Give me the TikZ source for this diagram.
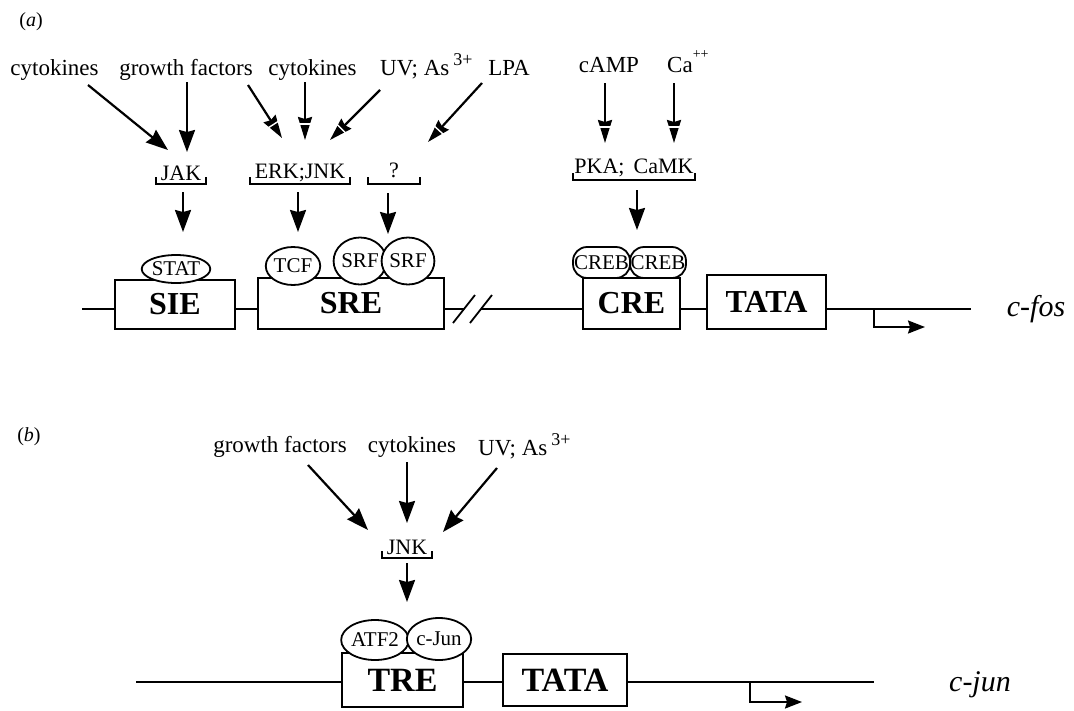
\documentclass[tikz,border=0pt]{standalone}
\usepackage{fontspec}
\setmainfont{Liberation Serif}
\usetikzlibrary{arrows.meta,shapes.geometric,calc}
\begin{document}
\begin{tikzpicture}[x=1pt,y=-1pt,
  lbl/.style={font=\fontsize{23}{24}\selectfont, inner sep=0pt, anchor=base},
  kin/.style={font=\fontsize{22}{22}\selectfont, inner sep=0pt},
  brk/.style={line width=1.6pt},
  elemA/.style={draw, line width=2.2pt, fill=white, inner sep=0pt, font=\bfseries\fontsize{32}{32}\selectfont},
  elemB/.style={draw, line width=2.2pt, fill=white, inner sep=0pt, font=\bfseries\fontsize{34}{34}\selectfont},
  prot/.style={draw, ellipse, line width=1.8pt, fill=white, inner sep=0pt, font=\fontsize{21}{21}\selectfont},
  creb/.style={draw, rounded corners=14pt, line width=1.8pt, fill=white, inner sep=0pt, minimum height=31pt, font=\fontsize{21}{21}\selectfont},
  arr/.style={line width=2.2pt, -{Stealth[length=22pt,width=16pt,inset=2pt]}},
  arrd/.style={line width=2.2pt, -{Stealth[length=23pt,width=14pt,inset=2pt]}},
  stripe/.style={white, line width=1.4pt},
  tss/.style={line width=2pt, -{Stealth[length=17pt,width=13pt,inset=2pt]}},
  dna/.style={line width=2pt},
  gene/.style={font=\itshape\fontsize{30}{30}\selectfont, inner sep=0pt},
  panel/.style={font=\fontsize{20}{20}\selectfont, inner sep=0pt},
]
\useasboundingbox (0,0) rectangle (1074,710);

% ---------------- panel (a) ----------------
\node[panel] (pa) at (31,22) {(\textit{a})};

\node[lbl] (cyt1) at (54.5,75) {cytokines};
\node[lbl] (gf1) at (186,75) {growth factors};
\node[lbl] (cyt2) at (312.5,75) {cytokines};
\node[lbl, anchor=base west] (uv1) at (380,75) {UV; As\,\raisebox{0.42em}{\fontsize{18}{18}\selectfont 3+}};
\node[lbl] (lpa) at (509,75) {LPA};
\node[lbl] (camp) at (609,72) {cAMP};
\node[lbl, anchor=base west] (ca) at (667,72) {Ca\raisebox{0.6em}{\fontsize{14}{14}\selectfont ++}};

% kinases with brackets
\node[kin] (jak) at (181,173) {JAK};
\draw[brk] (156,177) |- (206,184) -- (206,177);
\node[kin] (erk) at (300,173) {ERK;JNK};
\draw[brk] (250,177) |- (350,184) -- (350,177);
\node[kin] (unk) at (394,170) {?};
\draw[brk] (368,177) |- (420,184) -- (420,177);
\node[kin] (pka) at (634,168) {PKA;\ \,CaMK};
\draw[brk] (573,173) |- (695,180) -- (695,173);

% DNA line (a)
\coordinate (dA0) at (82,309);
\coordinate (dA1) at (464,309);
\coordinate (dA2) at (481,309);
\coordinate (dA3) at (971,309);
\draw[dna] (dA0) -- (dA1);
\draw[dna] (dA2) -- (dA3);
\draw[line width=1.8pt] (453,323) -- (475,295);
\draw[line width=1.8pt] (470,323) -- (492,295);

\node[elemA, minimum width=120pt, minimum height=49pt] (sie) at (175,304.5) {SIE};
\node[elemA, minimum width=186pt, minimum height=51pt] (sre) at (351,303.5) {SRE};
\node[elemA, minimum width=97pt, minimum height=51pt] (cre) at (631.5,303.5) {CRE};
\node[elemA, minimum width=119pt, minimum height=54pt] (tataA) at (766.5,302) {TATA};

\node[prot, minimum width=68pt, minimum height=28pt] (stat) at (176,269) {STAT};
\node[prot, minimum width=50pt, minimum height=38pt] (tcf) at (293,266) {TCF};
\node[prot, minimum width=46pt, minimum height=47pt] (srf1) at (360,261) {SRF};
\node[prot, minimum width=48pt, minimum height=47pt] (srf2) at (408,261) {SRF};
\node[creb, minimum width=57pt] (creb1) at (601.5,262.5) {CREB};
\node[creb, minimum width=56pt] (creb2) at (658,262.5) {CREB};

\coordinate (tssA) at (874,309);
\coordinate (tssAe) at (925,327);
\draw[tss] (tssA) |- (tssAe);
\node[gene] (cfos) at (1036,309) {c-fos};

% arrows (a)
\coordinate (a1s) at (88,85);   \coordinate (a1e) at (168,150);
\coordinate (a2s) at (187,82);  \coordinate (a2e) at (187,152);
\coordinate (a3s) at (248,85);  \coordinate (a3e) at (282,138);
\coordinate (a4s) at (305,82);  \coordinate (a4e) at (305,140);
\coordinate (a5s) at (380,90);  \coordinate (a5e) at (330,140);
\coordinate (a6s) at (482,83);  \coordinate (a6e) at (428,142);
\coordinate (a7s) at (605,83);  \coordinate (a7e) at (605,143);
\coordinate (a8s) at (674,83);  \coordinate (a8e) at (674,143);
\draw[arr] (a1s) -- (a1e);
\draw[arr] (a2s) -- (a2e);
\foreach \s/\e in {a3s/a3e, a4s/a4e, a5s/a5e, a6s/a6e, a7s/a7e, a8s/a8e} {
  \draw[arrd] (\s) -- (\e);
  \coordinate (P) at ($(\e)!16pt!(\s)$);
  \draw[stripe] ($(P)!6pt!90:(\e)$) -- ($(P)!6pt!-90:(\e)$);
}

\coordinate (d1s) at (183,192); \coordinate (d1e) at (183,232);
\coordinate (d2s) at (298,192); \coordinate (d2e) at (298,232);
\coordinate (d3s) at (388,193); \coordinate (d3e) at (388,234);
\coordinate (d4s) at (637,190); \coordinate (d4e) at (637,230);
\draw[arr] (d1s) -- (d1e);
\draw[arr] (d2s) -- (d2e);
\draw[arr] (d3s) -- (d3e);
\draw[arr] (d4s) -- (d4e);

% ---------------- panel (b) ----------------
\node[panel] (pb) at (29,437) {(\textit{b})};

\node[lbl] (gf2) at (280,452) {growth factors};
\node[lbl] (cyt3) at (412,452) {cytokines};
\node[lbl, anchor=base west] (uv2) at (478,455) {UV; As\,\raisebox{0.42em}{\fontsize{18}{18}\selectfont 3+}};

\node[kin] (jnk) at (407,547) {JNK};
\draw[brk] (382,551) |- (432,558) -- (432,551);

\coordinate (dB0) at (136,682);
\coordinate (dB1) at (874,682);
\draw[dna] (dB0) -- (dB1);

\node[elemB, minimum width=121pt, minimum height=54pt] (tre) at (402.5,680) {TRE};
\node[elemB, minimum width=124pt, minimum height=52pt] (tataB) at (565,680) {TATA};

\node[prot, minimum width=66pt, minimum height=40pt] (atf) at (375,640) {ATF2};
\node[prot, minimum width=62pt, minimum height=42pt] (cjun) at (439,639) {c-Jun};

\coordinate (tssB) at (750,682);
\coordinate (tssBe) at (802,702);
\draw[tss] (tssB) |- (tssBe);
\node[gene] (cjungene) at (980,685) {c-jun};

\coordinate (b1s) at (308,465); \coordinate (b1e) at (368,530);
\coordinate (b2s) at (407,462); \coordinate (b2e) at (407,523);
\coordinate (b3s) at (497,468); \coordinate (b3e) at (443,532);
\coordinate (b4s) at (407,563); \coordinate (b4e) at (407,602);
\draw[arr] (b1s) -- (b1e);
\draw[arr] (b2s) -- (b2e);
\draw[arr] (b3s) -- (b3e);
\draw[arr] (b4s) -- (b4e);
\end{tikzpicture}
\end{document}
